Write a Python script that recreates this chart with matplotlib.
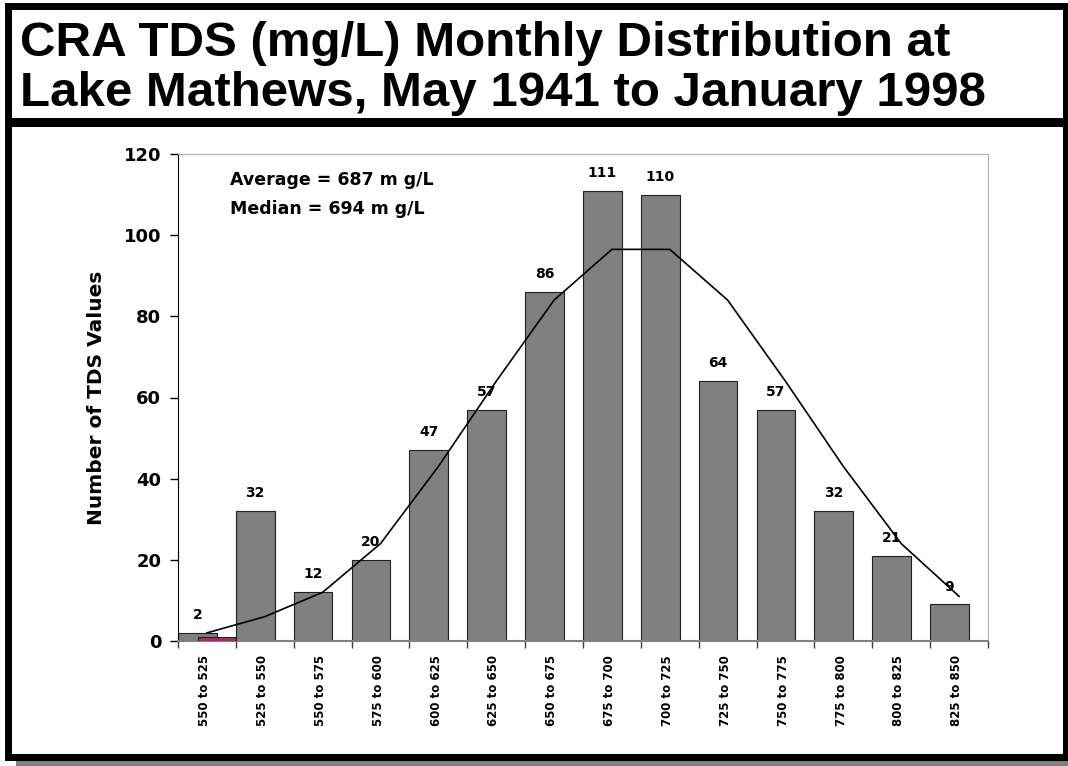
import matplotlib
matplotlib.use("Agg")
import numpy as np
from matplotlib import pyplot as plt
from matplotlib.patches import Rectangle

# TDS ranges (mg/L) as labelled on the chart
ranges = ["550 to 525", "525 to 550", "550 to 575", "575 to 600", "600 to 625",
          "625 to 650", "650 to 675", "675 to 700", "700 to 725", "725 to 750",
          "750 to 775", "775 to 800", "800 to 825", "825 to 850"]
counts = [2, 32, 12, 20, 47, 57, 86, 111, 110, 64, 57, 32, 21, 9]
second = [1, 0, 0, 0, 0, 0, 0, 0, 0, 0, 0, 0, 0, 0]
normal_fit = [2, 6, 12, 24, 43, 64, 84, 96.5, 96.5, 84, 64, 43, 24, 11]
yticks = [0, 20, 40, 60, 80, 100, 120]
title_lines = ["CRA TDS (mg/L) Monthly Distribution at",
               "Lake Mathews, May 1941 to January 1998"]

W, H = 1068, 766
fig = plt.figure(figsize=(W / 100, H / 100), dpi=100)

def px_rect(x0, y0, x1, y1, color, z):
    # rectangle given in pixel coords (origin top-left)
    fig.add_artist(Rectangle((x0 / W, 1 - y1 / H), (x1 - x0) / W, (y1 - y0) / H,
                             transform=fig.transFigure, facecolor=color,
                             edgecolor="none", zorder=z))

# frame: shadow, black border, white inside, title divider
px_rect(16, 755, 1068, 766, "#808080", -5)
px_rect(5, 3, 1068, 761, "black", -4)
px_rect(12, 10, 1063, 754, "white", -3)
px_rect(12, 118, 1063, 127, "black", -2)

for line, base in zip(title_lines, [56, 106]):
    fig.text(20 / W, 1 - base / H, line, family="Liberation Sans", weight="bold",
             fontsize=35.5, ha="left", va="baseline")

ax = fig.add_axes([178 / W, 1 - 641 / H, 810 / W, 487 / H])
ax.set_facecolor("white")

x = np.arange(len(counts))
ax.bar(x, counts, width=0.67, align="edge", color="#808080",
       edgecolor="#202020", linewidth=0.8, zorder=2)
nz = [i for i, v in enumerate(second) if v > 0]
ax.bar(x[nz] + 0.34, [second[i] for i in nz], width=0.66, align="edge",
       color="#993366", edgecolor="#202020", linewidth=0.8, zorder=3)
ax.plot(x + 0.5, normal_fit, color="black", linewidth=1.2, zorder=4)

for i, v in enumerate(counts):
    ax.annotate(str(v), (i + 0.335, v), xytext=(0, 10), textcoords="offset points",
                ha="center", va="baseline", fontsize=10, weight="bold",
                family="DejaVu Sans", zorder=5)

ax.text(0.064, 0.947, "Average = 687 m g/L", transform=ax.transAxes,
        fontsize=12.5, weight="bold", va="center", ha="left")
ax.text(0.064, 0.887, "Median = 694 m g/L", transform=ax.transAxes,
        fontsize=12.5, weight="bold", va="center", ha="left")

ax.set_xlim(0, len(counts))
ax.set_ylim(0, 120)
ax.set_yticks(yticks)
ax.set_yticklabels([str(t) for t in yticks], fontsize=13, weight="bold")
ax.tick_params(axis="y", direction="out", length=6, width=1, color="black", pad=6)

ax.set_xticks(np.arange(len(counts) + 1))
ax.set_xticklabels([])
ax.tick_params(axis="x", which="major", direction="out", length=5, width=1,
               color="#404040")
ax.set_xticks(x + 0.46, minor=True)
ax.set_xticklabels(ranges, minor=True, rotation=90, fontsize=8.5, weight="bold")
ax.tick_params(axis="x", which="minor", length=0, pad=10)

ax.set_ylabel("Number of TDS Values", fontsize=14.5, weight="bold", labelpad=13)

ax.spines["left"].set_color("black")
ax.spines["bottom"].set_color("#808080")
ax.spines["bottom"].set_linewidth(1.5)
ax.spines["top"].set_color("#b0b0b0")
ax.spines["right"].set_color("#b0b0b0")

plt.savefig("out.png", dpi=100)
